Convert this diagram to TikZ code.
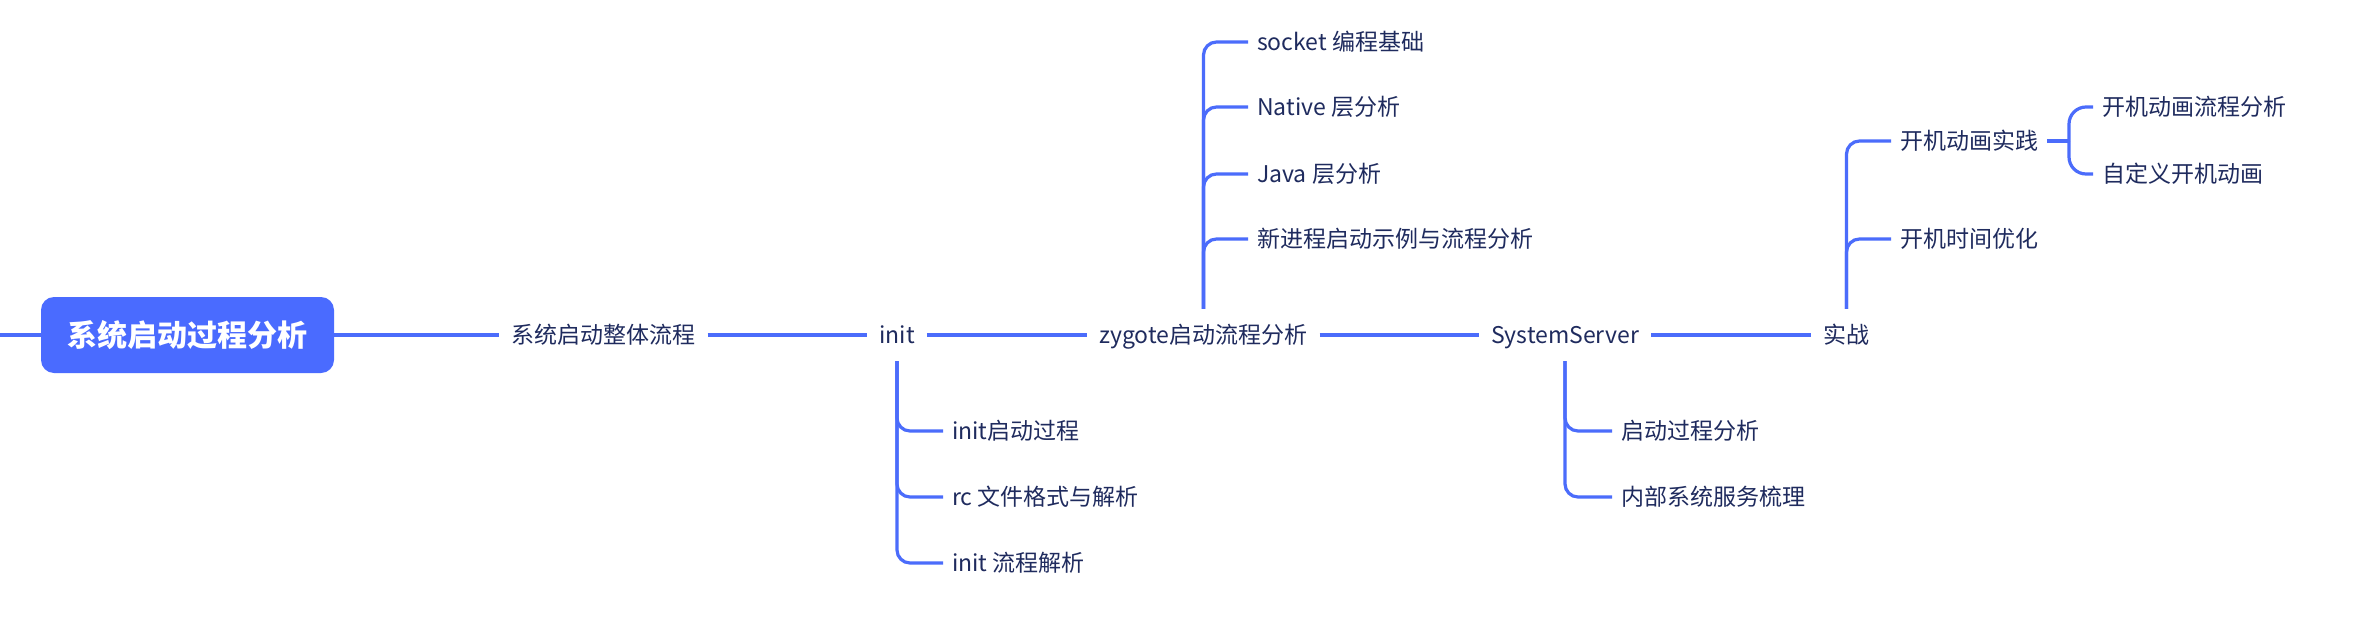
\documentclass[tikz,border=0pt]{standalone}
\usepackage{fontspec}
\setmainfont{Noto Sans CJK SC}
\definecolor{lineblue}{HTML}{4B6CFB}
\definecolor{rootblue}{HTML}{4A6BFF}
\definecolor{txt}{HTML}{1F2B5E}
\tikzset{
  mainnode/.style={inner xsep=12pt, inner ysep=0pt, minimum height=52pt, text=txt,
    font=\fontsize{23}{23}\selectfont, text height=20.2pt, text depth=2.8pt},
  child/.style={anchor=west, inner xsep=9pt, inner ysep=0pt, text=txt,
    font=\fontsize{23}{23}\selectfont, text height=20.2pt, text depth=2.8pt},
  rootbox/.style={rectangle, rounded corners=13pt, fill=rootblue, text=white,
    minimum width=293pt, minimum height=76pt, inner sep=0pt,
    font=\fontsize{30}{30}\selectfont\bfseries, text height=26.4pt, text depth=3.6pt},
  mainline/.style={draw=lineblue, line width=4pt},
  branch/.style={draw=lineblue, line width=3.2pt, rounded corners=13pt},
  subbranch/.style={draw=lineblue, line width=3.2pt, rounded corners=17pt},
}
\begin{document}
\begin{tikzpicture}[x=1pt,y=-1pt]
\useasboundingbox (0,0) rectangle (2372,629);
\fill[white] (0,0) rectangle (2372,629);

\coordinate (L) at (0,335);
\node[rootbox] (root) at (187.5,335) {系统启动过程分析};
\node[mainnode] (sys) at (603.5,335) {系统启动整体流程};
\node[mainnode] (init) at (897,335) {init};
\node[mainnode] (zyg) at (1203.5,335) {zygote启动流程分析};
\node[mainnode] (ss) at (1565,335) {SystemServer};
\node[mainnode] (sz) at (1846.5,335) {实战};

\draw[mainline] (L) -- (root.west);
\draw[mainline] (root.east) -- (sys.west);
\draw[mainline] (sys.east) -- (init.west);
\draw[mainline] (init.east) -- (zyg.west);
\draw[mainline] (zyg.east) -- (ss.west);
\draw[mainline] (ss.east) -- (sz.west);

% zygote children
\node[child] (z1) at (1248,42) {socket 编程基础};
\node[child] (z2) at (1248,107) {Native 层分析};
\node[child] (z3) at (1248,174) {Java 层分析};
\node[child] (z4) at (1248,239) {新进程启动示例与流程分析};
\foreach \c in {z1,z2,z3,z4} \draw[branch] (zyg.north) |- (\c.west);

% init children
\node[child] (i1) at (943,431) {init启动过程};
\node[child] (i2) at (943,497) {rc 文件格式与解析};
\node[child] (i3) at (943,563) {init 流程解析};
\foreach \c in {i1,i2,i3} \draw[branch] (init.south) |- (\c.west);

% SystemServer children
\node[child] (s1) at (1612,431) {启动过程分析};
\node[child] (s2) at (1612,497) {内部系统服务梳理};
\foreach \c in {s1,s2} \draw[branch] (ss.south) |- (\c.west);

% 实战 children
\node[child] (p1) at (1891,141) {开机动画实践};
\node[child] (p2) at (1891,239) {开机时间优化};
\foreach \c in {p1,p2} \draw[branch] (sz.north) |- (\c.west);

% 开机动画实践 children
\coordinate (pv) at (2069,141);
\node[child] (q1) at (2093,107) {开机动画流程分析};
\node[child] (q2) at (2093,174) {自定义开机动画};
\draw[mainline, line width=3.2pt] (p1.east) -- (pv);
\foreach \c in {q1,q2} \draw[subbranch] (pv) |- (\c.west);
\end{tikzpicture}
\end{document}
